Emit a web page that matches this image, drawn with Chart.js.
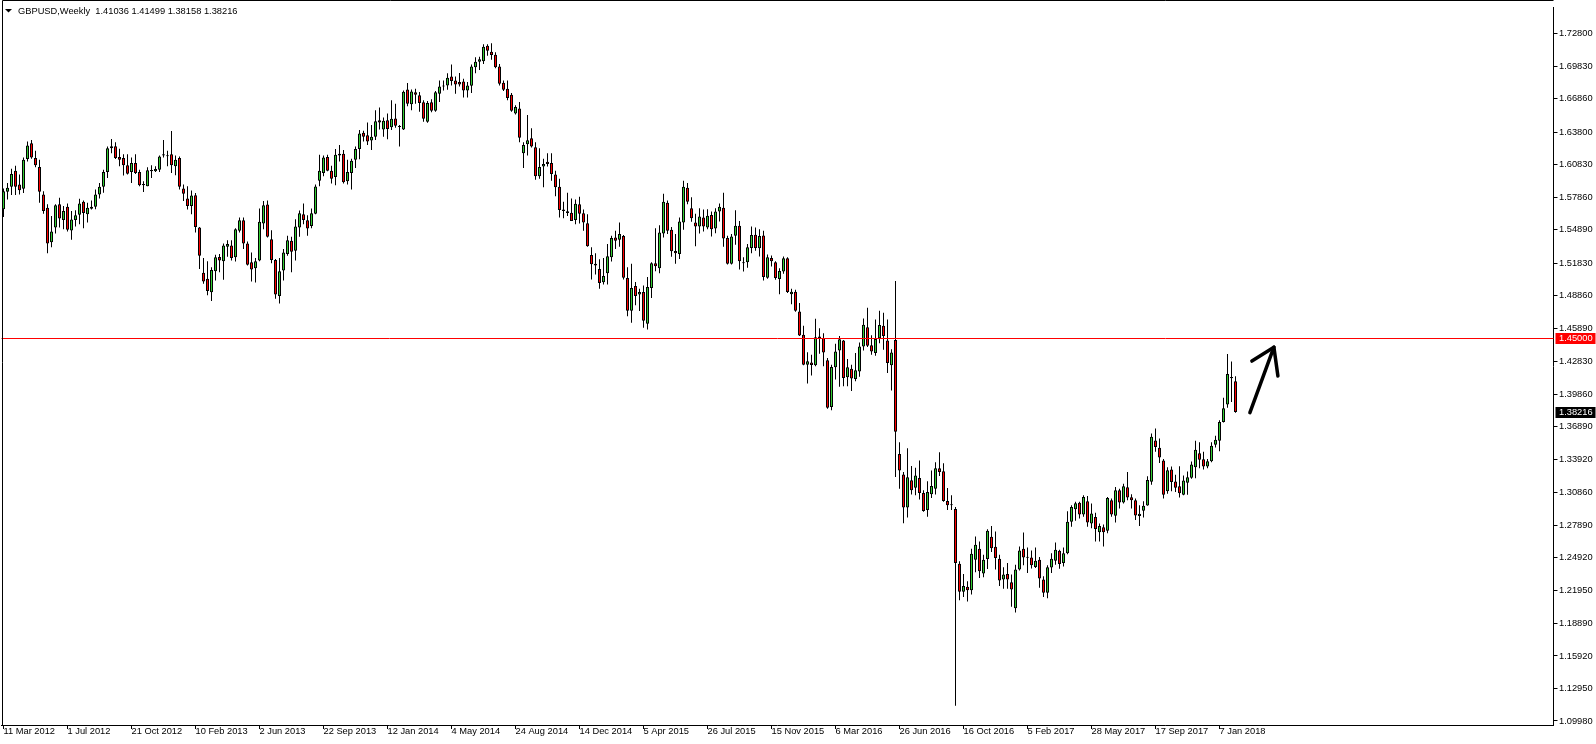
<!DOCTYPE html>
<html><head><meta charset="utf-8">
<script src="https://cdn.jsdelivr.net/npm/chart.js@4/dist/chart.umd.min.js"></script>
<style>html,body{margin:0;padding:0;background:#fff;overflow:hidden}canvas{display:block}</style>
</head><body>
<canvas id="c" width="1596" height="744"></canvas>
<script>
const symbolTitle = 'GBPUSD,Weekly';
const lastQuote = ['1.41036', '1.41499', '1.38158', '1.38216'];
const dateTickLabels = ['11 Mar 2012','1 Jul 2012','21 Oct 2012','10 Feb 2013','2 Jun 2013','22 Sep 2013','12 Jan 2014','4 May 2014','24 Aug 2014','14 Dec 2014','5 Apr 2015','26 Jul 2015','15 Nov 2015','6 Mar 2016','26 Jun 2016','16 Oct 2016','5 Feb 2017','28 May 2017','17 Sep 2017','7 Jan 2018'];
const weeksPerTick = 16;
const totalSlots = 388;
const yTicks = [1.72800,1.69830,1.66860,1.63800,1.60830,1.57860,1.54890,1.51830,1.48860,1.45890,1.42830,1.39860,1.36890,1.33920,1.30860,1.27890,1.24920,1.21950,1.18890,1.15920,1.12950,1.09980];
const yMin = 1.09609, yMax = 1.75248;
const levelLine = 1.45;
const arrowShaft = [[311.6, 1.3817], [317.6, 1.4415]];
const arrowHead = [[312.1, 1.4288], [317.6, 1.4415], [318.6, 1.4152]];

const open = [
1.5676,1.5836,1.5881,1.6029,1.5902,1.5863,1.6135,1.6280,1.6144,1.6063,
1.5812,1.5691,1.5374,1.5510,1.5721,1.5579,1.5700,1.5482,1.5579,1.5627,
1.5745,1.5630,1.5682,1.5700,1.5812,1.5881,1.6017,1.6235,1.6253,1.6153,
1.6144,1.6078,1.6017,1.6099,1.6017,1.5896,1.5887,1.6023,1.6023,1.6038,
1.6168,1.6162,1.6180,1.6069,1.6144,1.5865,1.5775,1.5705,1.5805,1.5509,
1.5095,1.5040,1.4917,1.5110,1.5240,1.5201,1.5334,1.5346,1.5237,1.5479,
1.5575,1.5364,1.5192,1.5137,1.5207,1.5545,1.5720,1.5403,1.5213,1.4883,
1.5116,1.5267,1.5388,1.5297,1.5509,1.5630,1.5575,1.5524,1.5636,1.5938,
1.6007,1.6153,1.6029,1.5971,1.6168,1.6183,1.5932,1.6007,1.6128,1.6228,
1.6376,1.6352,1.6304,1.6340,1.6491,1.6406,1.6491,1.6425,1.6506,1.6434,
1.6406,1.6772,1.6636,1.6745,1.6718,1.6654,1.6476,1.6654,1.6576,1.6733,
1.6799,1.6808,1.6890,1.6854,1.6839,1.6845,1.6763,1.6805,1.6975,1.7026,
1.7029,1.7171,1.7117,1.7089,1.6981,1.6833,1.6778,1.6724,1.6551,1.6597,
1.6189,1.6271,1.6325,1.6244,1.5978,1.6068,1.6111,1.6099,1.5993,1.5881,
1.5675,1.5657,1.5645,1.5579,1.5721,1.5639,1.5549,1.5258,1.5177,1.5131,
1.5008,1.5092,1.5237,1.5419,1.5397,1.5431,1.5047,1.4748,1.4974,1.4896,
1.4920,1.4630,1.4956,1.5183,1.5138,1.5455,1.5736,1.5488,1.5295,1.5267,
1.5555,1.5872,1.5685,1.5555,1.5518,1.5600,1.5509,1.5624,1.5500,1.5655,
1.5691,1.5413,1.5177,1.5434,1.5525,1.5186,1.5192,1.5322,1.5443,1.5319,
1.5437,1.5050,1.5231,1.5192,1.5038,1.5108,1.5228,1.4899,1.4923,1.4742,
1.4530,1.4255,1.4276,1.4249,1.4512,1.4500,1.4295,1.3869,1.4231,1.4385,
1.4476,1.4140,1.4219,1.4125,1.4192,1.4422,1.4597,1.4434,1.4361,1.4497,
1.4612,1.4476,1.4249,1.4482,1.3439,1.3252,1.2950,1.3198,1.3131,1.3219,
1.3083,1.2926,1.3071,1.3122,1.3309,1.3282,1.3010,1.2975,1.2935,1.2436,
1.2179,1.2225,1.2194,1.2472,1.2572,1.2345,1.2478,1.2681,1.2590,1.2481,
1.2291,1.2342,1.2267,1.2028,1.2382,1.2572,1.2493,1.2493,1.2406,1.2472,
1.2291,1.2170,1.2402,1.2463,1.2554,1.2442,1.2532,1.2819,1.2934,1.2992,
1.2886,1.3007,1.2804,1.2862,1.2723,1.2768,1.2738,1.3016,1.2874,1.3107,
1.2995,1.3134,1.3043,1.3016,1.2871,1.2919,1.2968,1.3185,1.3563,1.3496,
1.3379,1.3097,1.3297,1.3188,1.3143,1.3067,1.3176,1.3221,1.3318,1.3445,
1.3391,1.3324,1.3372,1.3524,1.3560,1.3732,1.3892,1.4131,1.41036
];
const high = [
1.5866,1.5917,1.6047,1.6075,1.5993,1.6150,1.6295,1.6310,1.6211,1.6129,
1.5842,1.5721,1.5615,1.5721,1.5781,1.5706,1.5730,1.5661,1.5667,1.5772,
1.5757,1.5736,1.5757,1.5857,1.5917,1.6038,1.6250,1.6319,1.6289,1.6229,
1.6180,1.6180,1.6150,1.6180,1.6038,1.5933,1.6060,1.6078,1.6069,1.6168,
1.6310,1.6211,1.6392,1.6168,1.6159,1.5902,1.5887,1.5847,1.5826,1.5515,
1.5231,1.5201,1.5146,1.5261,1.5267,1.5364,1.5394,1.5394,1.5503,1.5600,
1.5600,1.5382,1.5282,1.5231,1.5684,1.5751,1.5757,1.5485,1.5222,1.5231,
1.5312,1.5433,1.5424,1.5584,1.5666,1.5729,1.5621,1.5684,1.5902,1.6174,
1.6168,1.6174,1.6074,1.6228,1.6264,1.6219,1.6128,1.6137,1.6249,1.6400,
1.6394,1.6470,1.6446,1.6582,1.6606,1.6515,1.6551,1.6672,1.6642,1.6446,
1.6763,1.6830,1.6772,1.6778,1.6748,1.6672,1.6666,1.6681,1.6757,1.6854,
1.6854,1.6920,1.6999,1.6890,1.6923,1.6869,1.6839,1.6999,1.7065,1.7071,
1.7186,1.7186,1.7195,1.7111,1.7005,1.6854,1.6854,1.6739,1.6627,1.6657,
1.6289,1.6537,1.6416,1.6289,1.6235,1.6138,1.6189,1.6189,1.6029,1.5956,
1.5745,1.5827,1.5775,1.5766,1.5790,1.5675,1.5630,1.5328,1.5274,1.5219,
1.5231,1.5358,1.5434,1.5479,1.5555,1.5440,1.5147,1.5177,1.5011,1.4950,
1.4980,1.5056,1.5192,1.5503,1.5530,1.5817,1.5757,1.5515,1.5449,1.5600,
1.5938,1.5917,1.5787,1.5636,1.5685,1.5675,1.5676,1.5655,1.5685,1.5730,
1.5827,1.5434,1.5449,1.5667,1.5570,1.5237,1.5358,1.5519,1.5509,1.5494,
1.5479,1.5262,1.5253,1.5201,1.5138,1.5244,1.5237,1.4950,1.4941,1.4820,
1.4612,1.4370,1.4346,1.4675,1.4588,1.4542,1.4316,1.4255,1.4446,1.4518,
1.4482,1.4307,1.4255,1.4361,1.4458,1.4678,1.4775,1.4525,1.4669,1.4748,
1.4730,1.4669,1.4397,1.5020,1.3545,1.3273,1.3491,1.3328,1.3312,1.3379,
1.3107,1.3189,1.3288,1.3364,1.3454,1.3355,1.3128,1.3062,1.2953,1.2457,
1.2342,1.2276,1.2572,1.2684,1.2639,1.2518,1.2750,1.2781,1.2729,1.2518,
1.2403,1.2442,1.2336,1.2427,1.2593,1.2720,1.2584,1.2557,1.2584,1.2496,
1.2321,1.2421,1.2532,1.2629,1.2563,1.2584,1.2916,1.2971,1.3001,1.3001,
1.3061,1.3055,1.2986,1.2901,1.2804,1.2795,1.3046,1.3031,1.3137,1.3122,
1.3167,1.3273,1.3070,1.3031,1.2971,1.3007,1.3236,1.3626,1.3672,1.3581,
1.3394,1.3318,1.3324,1.3249,1.3327,1.3243,1.3279,1.3369,1.3560,1.3545,
1.3460,1.3394,1.3545,1.3605,1.3747,1.3953,1.4352,1.4285,1.41499
];
const low = [
1.5606,1.5766,1.5806,1.5806,1.5812,1.5824,1.6114,1.6138,1.6060,1.5736,
1.5636,1.5274,1.5328,1.5455,1.5510,1.5494,1.5473,1.5398,1.5519,1.5540,
1.5503,1.5555,1.5673,1.5676,1.5775,1.5827,1.5963,1.6189,1.6135,1.6069,
1.5984,1.5993,1.5917,1.5999,1.5887,1.5833,1.5887,1.5963,1.6017,1.6017,
1.6150,1.6069,1.6008,1.5987,1.5857,1.5751,1.5675,1.5630,1.5464,1.5131,
1.4995,1.4889,1.4838,1.5025,1.5101,1.5031,1.5243,1.5207,1.5198,1.5464,
1.5312,1.5161,1.5016,1.5007,1.5201,1.5494,1.5418,1.5182,1.4859,1.4814,
1.5025,1.5252,1.5101,1.5207,1.5424,1.5539,1.5433,1.5503,1.5630,1.5887,
1.5977,1.6023,1.5911,1.5896,1.6113,1.5911,1.5902,1.5856,1.6053,1.6134,
1.6295,1.6264,1.6219,1.6310,1.6406,1.6340,1.6316,1.6400,1.6422,1.6249,
1.6400,1.6618,1.6582,1.6642,1.6567,1.6476,1.6467,1.6564,1.6567,1.6657,
1.6763,1.6769,1.6808,1.6733,1.6799,1.6697,1.6697,1.6739,1.6920,1.6950,
1.7005,1.7080,1.7044,1.6966,1.6808,1.6757,1.6672,1.6567,1.6542,1.6289,
1.6053,1.6168,1.6241,1.5947,1.5956,1.5878,1.6068,1.5938,1.5796,1.5600,
1.5594,1.5615,1.5570,1.5539,1.5545,1.5479,1.5334,1.5035,1.5080,1.4950,
1.4989,1.4989,1.5198,1.5313,1.5334,1.5035,1.4699,1.4639,1.4799,1.4745,
1.4594,1.4578,1.4866,1.5110,1.5092,1.5419,1.5449,1.5243,1.5177,1.5222,
1.5488,1.5721,1.5561,1.5337,1.5455,1.5473,1.5494,1.5428,1.5458,1.5564,
1.5334,1.5171,1.5171,1.5352,1.5126,1.5108,1.5141,1.5274,1.5298,1.5244,
1.5026,1.5041,1.5153,1.5032,1.4899,1.5086,1.4911,1.4808,1.4739,1.4518,
1.4249,1.4083,1.4156,1.4240,1.4355,1.4240,1.3853,1.3838,1.4119,1.4053,
1.4059,1.4059,1.4014,1.4104,1.4144,1.4385,1.4416,1.4346,1.4337,1.4452,
1.4391,1.4180,1.4020,1.3228,1.3122,1.2805,1.2859,1.3068,1.3062,1.3022,
1.2910,1.2865,1.3037,1.3068,1.3237,1.3001,1.2926,1.2926,1.1138,1.2101,
1.2131,1.2089,1.2155,1.2357,1.2306,1.2312,1.2388,1.2542,1.2382,1.2231,
1.2206,1.2206,1.2043,1.1989,1.2373,1.2421,1.2351,1.2391,1.2397,1.2215,
1.2131,1.2119,1.2351,1.2427,1.2390,1.2411,1.2523,1.2774,1.2829,1.2850,
1.2865,1.2774,1.2759,1.2638,1.2638,1.2593,1.2714,1.2865,1.2813,1.2940,
1.2986,1.3016,1.2940,1.2835,1.2780,1.2859,1.2965,1.3158,1.3460,1.3357,
1.3031,1.3076,1.3097,1.3091,1.3040,1.3061,1.3067,1.3212,1.3218,1.3309,
1.3297,1.3309,1.3363,1.3499,1.3463,1.3726,1.3862,1.3913,1.38158
];
const close = [
1.5842,1.5872,1.5999,1.5881,1.5851,1.6129,1.6259,1.6150,1.6078,1.5836,
1.5661,1.5364,1.5473,1.5712,1.5591,1.5661,1.5488,1.5582,1.5621,1.5730,
1.5642,1.5691,1.5700,1.5812,1.5881,1.6017,1.6235,1.6253,1.6144,1.6129,
1.6078,1.6002,1.6099,1.6008,1.5896,1.5908,1.6032,1.6035,1.6044,1.6159,
1.6180,1.6168,1.6078,1.6129,1.5881,1.5817,1.5705,1.5802,1.5515,1.5252,
1.5016,1.4929,1.5122,1.5237,1.5207,1.5346,1.5358,1.5231,1.5494,1.5575,
1.5364,1.5170,1.5125,1.5201,1.5563,1.5714,1.5424,1.5213,1.4898,1.5110,
1.5282,1.5394,1.5288,1.5518,1.5639,1.5578,1.5500,1.5639,1.5884,1.6029,
1.6150,1.6029,1.5956,1.6174,1.6183,1.5923,1.6017,1.6119,1.6228,1.6370,
1.6340,1.6295,1.6340,1.6482,1.6470,1.6485,1.6409,1.6503,1.6440,1.6428,
1.6751,1.6642,1.6754,1.6724,1.6648,1.6503,1.6648,1.6576,1.6745,1.6799,
1.6808,1.6878,1.6848,1.6817,1.6817,1.6763,1.6808,1.6981,1.7026,1.7047,
1.7162,1.7126,1.7086,1.6975,1.6823,1.6769,1.6694,1.6576,1.6612,1.6331,
1.6264,1.6307,1.6250,1.5978,1.6062,1.6089,1.6089,1.5999,1.5878,1.5669,
1.5660,1.5642,1.5570,1.5727,1.5636,1.5555,1.5337,1.5174,1.5162,1.5002,
1.5065,1.5246,1.5413,1.5388,1.5449,1.5050,1.4748,1.4956,1.4884,1.4920,
1.4657,1.4965,1.5183,1.5156,1.5464,1.5745,1.5479,1.5292,1.5274,1.5564,
1.5881,1.5745,1.5594,1.5518,1.5609,1.5518,1.5618,1.5494,1.5655,1.5700,
1.5410,1.5177,1.5428,1.5525,1.5201,1.5183,1.5328,1.5440,1.5322,1.5431,
1.5056,1.5237,1.5201,1.5047,1.5111,1.5228,1.4920,1.4923,1.4748,1.4521,
1.4255,1.4286,1.4252,1.4506,1.4500,1.4367,1.3862,1.4234,1.4376,1.4488,
1.4134,1.4231,1.4128,1.4204,1.4422,1.4621,1.4428,1.4376,1.4491,1.4618,
1.4518,1.4270,1.4367,1.3642,1.3288,1.2950,1.3225,1.3107,1.3243,1.3083,
1.2917,1.3092,1.3146,1.3309,1.3273,1.3010,1.2971,1.2971,1.2442,1.2179,
1.2231,1.2194,1.2527,1.2608,1.2367,1.2472,1.2738,1.2578,1.2487,1.2282,
1.2336,1.2291,1.2200,1.2382,1.2557,1.2493,1.2490,1.2421,1.2463,1.2300,
1.2170,1.2403,1.2481,1.2563,1.2433,1.2532,1.2819,1.2955,1.2989,1.2886,
1.3046,1.2813,1.2895,1.2753,1.2780,1.2723,1.3037,1.2886,1.3107,1.2995,
1.3143,1.3040,1.3016,1.2877,1.2892,1.2965,1.3200,1.3596,1.3502,1.3406,
1.3067,1.3291,1.3182,1.3131,1.3079,1.3197,1.3227,1.3342,1.3478,1.3385,
1.3324,1.3372,1.3515,1.3569,1.3732,1.3856,1.4170,1.4143,1.38216
];

const FONT = 'Liberation Sans';
const FSIZE = 9.3;
const bullColor = '#32cd32';
const bearColor = '#ff0000';

const slotLabels = Array.from({length: totalSlots}, (_, i) => i);
const bodies = slotLabels.map(i => i < open.length ? [Math.min(open[i], close[i]), Math.max(open[i], close[i])] : null);
const wicks = slotLabels.map(i => i < open.length ? [Math.min(low[i], open[i], close[i]), Math.max(high[i], open[i], close[i])] : null);
const bodyColors = slotLabels.map(i => i < open.length ? (close[i] >= open[i] ? bullColor : bearColor) : bullColor);

const overlay = {
  id: 'overlay',
  afterDatasetsDraw(chart) {
    const {ctx, chartArea: a, scales: {x, y}} = chart;
    ctx.save();
    const ly = Math.round(y.getPixelForValue(levelLine)) + 0.5;
    ctx.strokeStyle = '#ff0000'; ctx.lineWidth = 1;
    ctx.beginPath(); ctx.moveTo(a.left, ly); ctx.lineTo(a.right, ly); ctx.stroke();
    ctx.strokeStyle = '#000'; ctx.lineWidth = 3.5; ctx.lineCap = 'round'; ctx.lineJoin = 'round';
    [arrowShaft, arrowHead].forEach(path => {
      ctx.beginPath();
      path.forEach(([i, p], k) => {
        const px = x.getPixelForValue(i), py = y.getPixelForValue(p);
        if (k) ctx.lineTo(px, py); else ctx.moveTo(px, py);
      });
      ctx.stroke();
    });
    ctx.restore();
  },
  afterDraw(chart) {
    const {ctx, chartArea: a, scales: {y}} = chart;
    ctx.save();
    ctx.strokeStyle = '#000'; ctx.lineWidth = 1;
    ctx.beginPath();
    ctx.moveTo(2.5, 725); ctx.lineTo(2.5, 0.5); ctx.lineTo(a.right, 0.5);
    ctx.stroke();
    ctx.fillStyle = '#000';
    ctx.beginPath(); ctx.moveTo(5, 9); ctx.lineTo(12, 9); ctx.lineTo(8.5, 12.5); ctx.closePath(); ctx.fill();
    ctx.font = FSIZE + 'px "' + FONT + '"';
    ctx.textBaseline = 'middle'; ctx.textAlign = 'left';
    ctx.fillText(symbolTitle + '  ' + lastQuote.join(' '), 18, 11);
    const tag = (val, bg) => {
      const py = Math.round(y.getPixelForValue(val));
      ctx.fillStyle = bg;
      ctx.fillRect(a.right + 2, py - 5, 40, 11);
      ctx.fillStyle = '#fff';
      ctx.fillText(val.toFixed(5), a.right + 5.5, py + 0.5);
    };
    tag(levelLine, '#ff0000');
    tag(close[close.length - 1], '#000');
    ctx.restore();
  }
};

new Chart(document.getElementById('c'), {
  type: 'bar',
  data: {
    labels: slotLabels,
    datasets: [
      {label: 'body', data: bodies, backgroundColor: bodyColors, borderColor: '#000', borderWidth: 1, borderSkipped: false, barThickness: 3, grouped: false, minBarLength: 1, inflateAmount: 0, order: 0},
      {label: 'wick', data: wicks, backgroundColor: '#000', borderWidth: 0, barThickness: 1, grouped: false, inflateAmount: 0, order: 1}
    ]
  },
  options: {
    responsive: false, animation: false, devicePixelRatio: 1,
    layout: {padding: {left: 1.5, top: 1, right: 0, bottom: 0}},
    plugins: {legend: {display: false}, tooltip: {enabled: false}, title: {display: false}},
    scales: {
      x: {
        type: 'category', offset: true,
        grid: {display: true, drawOnChartArea: false, offset: false, tickLength: 4, color: '#000'},
        border: {display: true, color: '#000'},
        ticks: {autoSkip: false, maxRotation: 0, minRotation: 0, align: 'start', padding: -3.5, color: '#000',
          font: {family: FONT, size: FSIZE},
          callback: v => dateTickLabels[v / weeksPerTick]},
        afterBuildTicks: s => { s.ticks = s.ticks.filter(t => t.value % weeksPerTick === 0 && t.value / weeksPerTick < dateTickLabels.length); },
        afterFit: s => { s.height = 19; }
      },
      y: {
        type: 'linear', position: 'right', min: yMin, max: yMax,
        grid: {drawOnChartArea: false, tickLength: 4, color: '#000'},
        border: {display: true, color: '#000'},
        ticks: {autoSkip: false, padding: 1.5, color: '#000', font: {family: FONT, size: FSIZE}, callback: v => v.toFixed(5)},
        afterBuildTicks: s => { s.ticks = yTicks.map(v => ({value: v})); },
        afterFit: s => { s.width = 42.5; }
      }
    }
  },
  plugins: [overlay]
});
</script>
</body></html>
